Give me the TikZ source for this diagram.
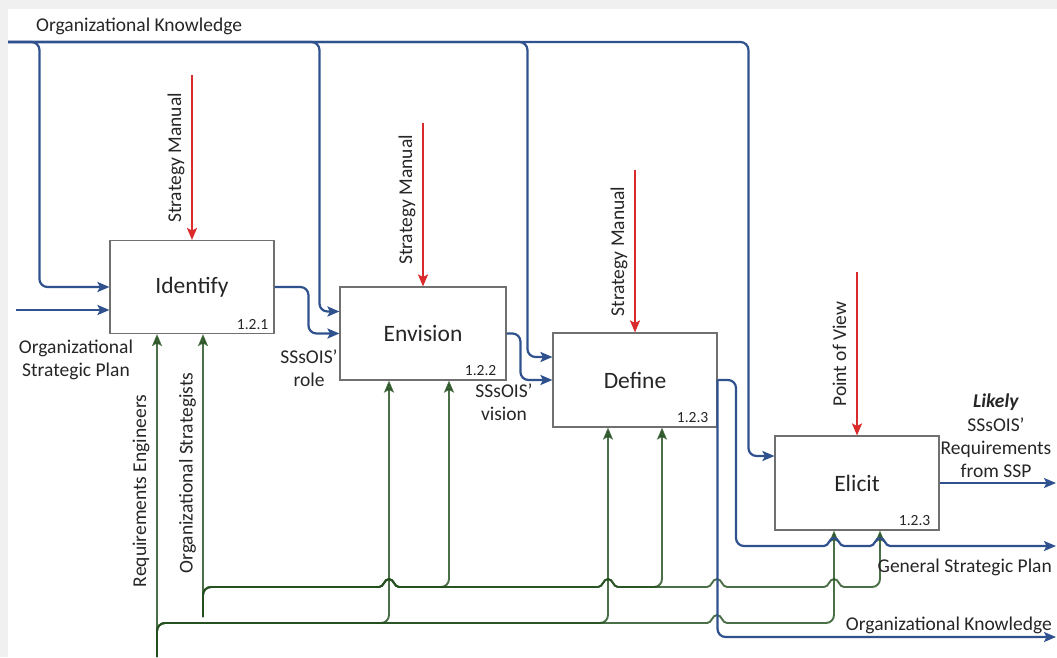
\documentclass[tikz,border=0pt]{standalone}
\usepackage{fontspec}
\setmainfont{Carlito}
\usetikzlibrary{arrows.meta,calc}

\definecolor{flowblue}{HTML}{2F528F}
\definecolor{feedgreen}{HTML}{24501F}
\definecolor{ctrlred}{HTML}{D92B2B}
\definecolor{boxedge}{HTML}{707070}
\definecolor{pagegray}{HTML}{F0F0F0}
\definecolor{ink}{HTML}{262626}

\tikzset{
  lbl/.style={font=\fontsize{19.5}{23.4}\selectfont, inner sep=0pt, text=ink},
  num/.style={font=\fontsize{15.5}{18}\selectfont, inner sep=0pt, text=ink},
  activity/.style={draw=boxedge, line width=1.1pt, fill=white,
    minimum width=164pt, minimum height=93pt, inner sep=0pt,
    font=\fontsize{23.5}{28}\selectfont, text=ink},
  tip/.style={-{Stealth[length=12pt,width=10pt,inset=2.5pt]}},
  flow/.style={tip, draw=flowblue, line width=2.2pt, rounded corners=8pt},
  feed/.style={tip, draw=feedgreen, line width=1.9pt, rounded corners=8pt, opacity=0.82},
  ctrl/.style={tip, draw=ctrlred, line width=1.9pt},
  % small bump where a line passes over a crossing line
  % (drawn with sharp corners so the rounding does not bend the curve)
  jump/.style 2 args={insert path={[sharp corners] -- ({#1-10},#2)
      .. controls ({#1-5},#2) and ({#1-5},{#2-8}) .. (#1,{#2-8})
      .. controls ({#1+5},{#2-8}) and ({#1+5},#2) .. ({#1+10},#2)
      -- ({#1+11},#2) [rounded corners=8pt]}},
}

\begin{document}
\begin{tikzpicture}[x=1pt,y=-1pt]
  % page frame
  \fill[pagegray] (0,0) rectangle (1057,657);
  \fill[white] (8,9) rectangle (1057,657);
  \useasboundingbox (0,0) rectangle (1057,657);

  % activities
  \node[activity] (idf) at (192,287) {Identify};
  \node[activity, minimum width=166pt] (env) at (423,333.5) {Envision};
  \node[activity, minimum height=94pt] (dfn) at (635,380) {Define};
  \node[activity, minimum height=94pt] (eli) at (857,483) {Elicit};

  \node[num, anchor=base east] (idfno) at ([xshift=-6pt,yshift=5pt]idf.south east) {1.2.1};
  \node[num, anchor=base east] (envno) at ([xshift=-10pt,yshift=5pt]env.south east) {1.2.2};
  \node[num, anchor=base east] (dfnno) at ([xshift=-9pt,yshift=5pt]dfn.south east) {1.2.3};
  \node[num, anchor=base east] (elino) at ([xshift=-9pt,yshift=5pt]eli.south east) {1.2.3};

  % controls
  \coordinate (sm1) at (192,75);
  \coordinate (sm2) at (423,123);
  \coordinate (sm3) at (635,170);
  \coordinate (pov) at (857,272);
  \draw[ctrl] (sm1) -- (idf.north);
  \draw[ctrl] (sm2) -- (env.north);
  \draw[ctrl] (sm3) -- (dfn.north);
  \draw[ctrl] (pov) -- (eli.north);
  \node[lbl, rotate=90, anchor=base] (sm1t) at (181,158) {Strategy Manual};
  \node[lbl, rotate=90, anchor=base] (sm2t) at (412,200) {Strategy Manual};
  \node[lbl, rotate=90, anchor=base] (sm3t) at (624,251.5) {Strategy Manual};
  \node[lbl, rotate=90, anchor=base] (povt) at (846,354) {Point of View};

  % mechanisms (green feeds)
  \coordinate (re) at (157,657);
  \coordinate (os) at (203,617);
  \draw[feed] (re) -- ([xshift=-35pt]idf.south);
  \draw[feed] (re) |- (389,623) -- ([xshift=-34pt]env.south);
  \draw[feed] (re) |- (608,623) -- ([xshift=-27pt]dfn.south);
  \draw[feed] (re) |- (700,623) [jump={717}{623}] -- (834,623) -- ([xshift=-23pt]eli.south);
  \draw[feed] (os) -- ([xshift=11pt]idf.south);
  \draw[feed] (os) |- (370,587) [jump={389}{587}] -- (449,587) -- ([xshift=26pt]env.south);
  \draw[feed] (os) |- (370,587) [jump={389}{587}] [jump={608}{587}] -- (662,587) -- ([xshift=27pt]dfn.south);
  \draw[feed] (os) |- (370,587) [jump={389}{587}] [jump={608}{587}] [jump={717}{587}]
    [jump={834}{587}] -- (880,587) -- ([xshift=23pt]eli.south);
  \node[lbl, rotate=90, anchor=base] (relbl) at (146,491) {Requirements Engineers};
  \node[lbl, rotate=90, anchor=base] (oslbl) at (192.5,473) {Organizational Strategists};

  % inputs and outputs (blue flows)
  \coordinate (okin) at (8,42);
  \draw[flow] (okin) -| ([xshift=-70pt]idf.west) -- (idf.west);
  \draw[flow] (okin) -| ([xshift=-20pt,yshift=22pt]env.west) -- ([yshift=22pt]env.west);
  \draw[flow] (okin) -| ([xshift=-25pt,yshift=23pt]dfn.west) -- ([yshift=23pt]dfn.west);
  \draw[flow] (okin) -| ([xshift=-26pt,yshift=27pt]eli.west) -- ([yshift=27pt]eli.west);
  \coordinate (ospin) at (16,310);
  \draw[flow] (ospin) -- (ospin -| idf.west);
  \draw[flow] (idf.east) -| ([xshift=-31pt]env.west) -- (env.west);
  \draw[flow] (env.east) -| ([xshift=-32pt]dfn.west) -- (dfn.west);
  \coordinate (gspout) at (1056,546);
  \coordinate (okout) at (1056,637);
  \coordinate (reqout) at (1056,483);
  \draw[flow] (dfn.east) -| (736,546) [jump={834}{546}] [jump={880}{546}] -- (gspout);
  \draw[flow] (dfn.east) |- (okout);
  \draw[flow] (eli.east) -- (reqout);

  % flow labels
  \node[lbl, anchor=base west] (oktop) at (36,31.5) {Organizational Knowledge};
  \node[lbl, align=center] (osplbl) at (76,360) {Organizational\\Strategic Plan};
  \node[lbl, align=center] (rolelbl) at (309,368) {SSsOIS’\\role};
  \node[lbl, align=center] (vislbl) at (504,402) {SSsOIS’\\vision};
  \node[lbl, align=center] (reqlbl) at (996,436) {\textbf{\textit{Likely}}\\SSsOIS’\\Requirements\\from SSP};
  \node[lbl, anchor=base east] (gsplbl) at (1052,572) {General Strategic Plan};
  \node[lbl, anchor=base east] (okbot) at (1052,630) {Organizational Knowledge};
\end{tikzpicture}
\end{document}
